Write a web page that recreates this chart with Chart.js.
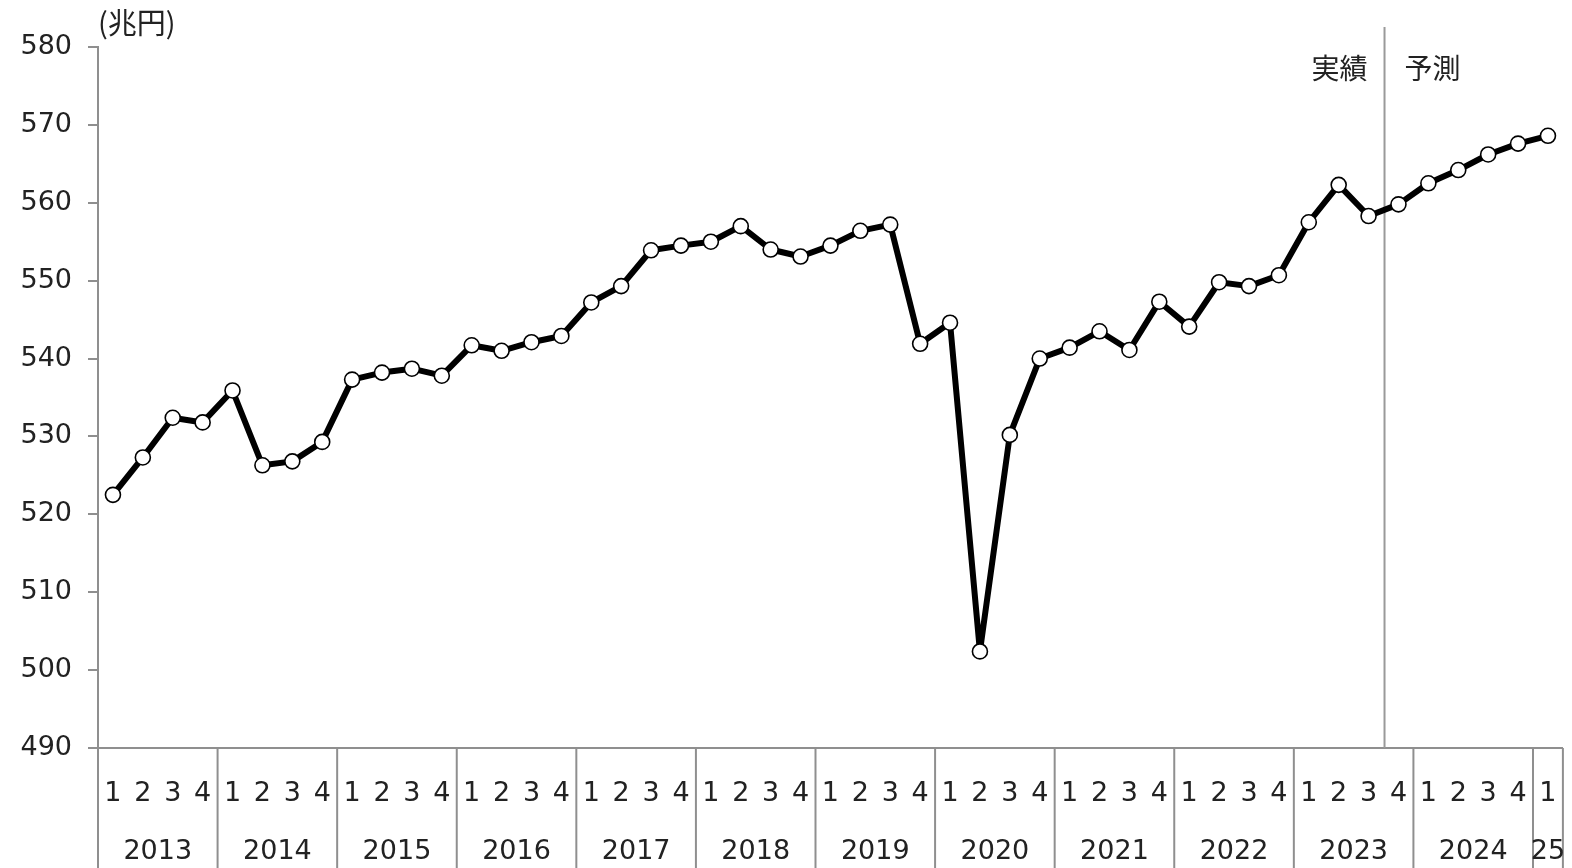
<!DOCTYPE html>
<html lang="ja">
<head>
  <meta charset="UTF-8" />
  <title>実質GDPの推移と予測</title>
  <script src="https://cdn.jsdelivr.net/npm/chart.js"></script>
  <style>
    html, body { margin: 0; padding: 0; background: #fff; }
    #wrap { width: 1572px; height: 868px; }
  </style>
</head>
<body>
  <div id="wrap"><canvas id="gdpChart" width="1572" height="868"></canvas></div>
  <script>
    // quarters 2013Q1 .. 2025Q1
    const quarterLabels = [
      "1","2","3","4", "1","2","3","4", "1","2","3","4", "1","2","3","4",
      "1","2","3","4", "1","2","3","4", "1","2","3","4", "1","2","3","4",
      "1","2","3","4", "1","2","3","4", "1","2","3","4", "1","2","3","4",
      "1"
    ];
    const yearLabels = ["2013","2014","2015","2016","2017","2018","2019","2020","2021","2022","2023","2024","25"];

    // 兆円
    const gdpValues = [
      522.5, 527.3, 532.4, 531.8,
      535.9, 526.3, 526.8, 529.3,
      537.3, 538.2, 538.7, 537.8,
      541.7, 541.0, 542.1, 542.9,
      547.2, 549.3, 553.9, 554.5,
      555.0, 557.0, 554.0, 553.1,
      554.5, 556.4, 557.2, 541.9,
      544.6, 502.4, 530.2, 540.0,
      541.4, 543.5, 541.1, 547.3,
      544.1, 549.8, 549.3, 550.7,
      557.5, 562.3, 558.3, 559.8,
      562.5, 564.2, 566.2, 567.6,
      568.6
    ];
    const forecastStart = 43;   // 2023Q4 is the first forecast quarter

    const axisColor = "#8f8f8f";
    const textColor = "#222";
    const numFont = "'DejaVu Sans', Verdana, sans-serif";
    const jpFont = "'Noto Sans CJK JP', sans-serif";

    // draws the year row, the year separators and the 実績/予測 divider
    const decor = {
      id: "decor",
      beforeDatasetsDraw(chart) {
        const { ctx, chartArea: a, scales: { x } } = chart;
        const lineX = (x.getPixelForValue(forecastStart - 1) + x.getPixelForValue(forecastStart)) / 2 + 1;
        ctx.save();
        ctx.strokeStyle = "#9a9a9a";
        ctx.lineWidth = 2;
        ctx.beginPath();
        ctx.moveTo(lineX, a.top - 20);
        ctx.lineTo(lineX, a.bottom);
        ctx.stroke();
        ctx.fillStyle = textColor;
        ctx.font = "28px " + jpFont;
        ctx.textBaseline = "middle";
        ctx.textAlign = "right";
        ctx.fillText("実績", lineX - 17, a.top + 21);
        ctx.textAlign = "left";
        ctx.fillText("予測", lineX + 20, a.top + 21);
        // unit
        ctx.font = "29px " + jpFont;
        ctx.fillText("(兆円)", a.left, a.top - 24);
        ctx.restore();
      },
      afterDraw(chart) {
        const { ctx, chartArea: a, scales: { x } } = chart;
        const n = gdpValues.length;
        const half = (x.getPixelForValue(1) - x.getPixelForValue(0)) / 2;
        ctx.save();
        ctx.strokeStyle = axisColor;
        ctx.lineWidth = 2;
        const edges = [];
        for (let i = 0; i < n; i += 4) edges.push(i);
        edges.push(n);
        edges.forEach(i => {
          const px = i < n ? x.getPixelForValue(i) - half : x.getPixelForValue(n - 1) + half;
          ctx.beginPath();
          ctx.moveTo(px, a.bottom);
          ctx.lineTo(px, chart.height);
          ctx.stroke();
        });
        ctx.fillStyle = textColor;
        ctx.font = "27px " + numFont;
        ctx.textAlign = "center";
        ctx.textBaseline = "middle";
        yearLabels.forEach((yr, k) => {
          const first = k * 4;
          const last = Math.min(first + 3, n - 1);
          const cx = (x.getPixelForValue(first) + x.getPixelForValue(last)) / 2;
          ctx.fillText(yr, cx, a.bottom + 104);
        });
        ctx.restore();
      }
    };

    new Chart(document.getElementById("gdpChart"), {
      type: "line",
      data: {
        labels: quarterLabels,
        datasets: [{
          data: gdpValues,
          borderColor: "#000",
          borderWidth: 6,
          borderJoinStyle: "round",
          tension: 0,
          pointRadius: 7.5,
          pointBorderWidth: 1.6,
          pointBackgroundColor: "#fff",
          pointBorderColor: "#000"
        }]
      },
      options: {
        responsive: false,
        animation: false,
        layout: { padding: { top: 47, right: 4, left: 0, bottom: 0 } },
        plugins: { legend: { display: false }, tooltip: { enabled: false } },
        scales: {
          x: {
            offset: true,
            afterFit(scale) {
              scale.height = 120;
              scale.paddingLeft = 0;
              scale.paddingRight = 0;
            },
            grid: { display: true, drawOnChartArea: false, drawTicks: false, color: "transparent" },
            border: { display: true, color: axisColor, width: 2 },
            ticks: {
              autoSkip: false,
              maxRotation: 0,
              padding: 30,
              color: textColor,
              font: { family: numFont, size: 27 }
            }
          },
          y: {
            min: 490,
            max: 580,
            afterFit(scale) { scale.width = 98; },
            grid: { drawOnChartArea: false, tickLength: 10, color: axisColor, lineWidth: 2 },
            border: { display: true, color: axisColor, width: 2 },
            ticks: {
              stepSize: 10,
              padding: 16,
              color: textColor,
              font: { family: numFont, size: 27 }
            }
          }
        }
      },
      plugins: [decor]
    });
  </script>
</body>
</html>
